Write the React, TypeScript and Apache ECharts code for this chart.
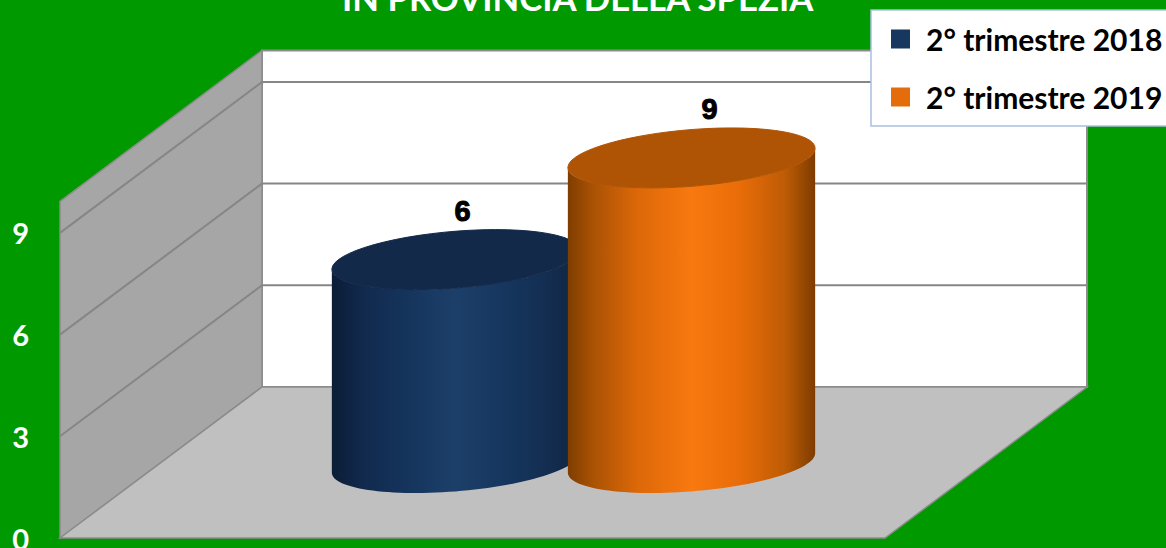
import React, { useEffect, useRef } from "react";
import * as echarts from "echarts";

const titleText = "IN PROVINCIA DELLA SPEZIA";
const categories = ["Provincia della Spezia"];
const seriesNames = ["2° trimestre 2018", "2° trimestre 2019"];
const values2018 = [6];
const values2019 = [9];
const gridValues = [3, 6, 9];

const GREEN = "#009900";
const DEPTH_X = 202;
const DEPTH_Y = 151;
const AXIS_MAX = 9.93;
const RX = 117;
const SKEW = 40;
const RY = 30;

const ell = (cx: number, cy: number, deg: number) => {
  const t = (deg * Math.PI) / 180;
  return [cx + RX * Math.cos(t) + SKEW * Math.sin(t), cy - RY * Math.sin(t)];
};
const arc = (cx: number, cy: number, from: number, to: number) => {
  const n = 60;
  const out: number[][] = [];
  for (let i = 0; i <= n; i++) out.push(ell(cx, cy, from + ((to - from) * i) / n));
  return out;
};
const T0 = (Math.atan2(SKEW, RX) * 180) / Math.PI;

const grad = (stops: [number, string][]) => ({
  type: "linear",
  x: 0,
  y: 0,
  x2: 1,
  y2: 0,
  colorStops: stops.map(([offset, color]) => ({ offset, color })),
});

const wallsRender = (_p: any, api: any) => {
  const [x0, y0] = api.coord([0, 0]);
  const size = api.size([1, 0]);
  const xL = x0 - size[0] / 2;
  const xR = x0 + size[0] / 2;
  const yTop = api.coord([0, AXIS_MAX])[1];
  const lineStyle = { stroke: "#868686", lineWidth: 2, fill: "none" };
  const children: any[] = [
    {
      type: "polygon",
      shape: { points: [[xL + DEPTH_X, yTop - DEPTH_Y], [xR + DEPTH_X, yTop - DEPTH_Y], [xR + DEPTH_X, y0 - DEPTH_Y], [xL + DEPTH_X, y0 - DEPTH_Y]] },
      style: { fill: "#ffffff", stroke: "#8c8c8c", lineWidth: 2 },
    },
    {
      type: "polygon",
      shape: { points: [[xL, yTop], [xL + DEPTH_X, yTop - DEPTH_Y], [xL + DEPTH_X, y0 - DEPTH_Y], [xL, y0]] },
      style: { fill: "#a6a6a6", stroke: "#8c8c8c", lineWidth: 1.5 },
    },
    {
      type: "polygon",
      shape: { points: [[xL, y0], [xR, y0], [xR + DEPTH_X, y0 - DEPTH_Y], [xL + DEPTH_X, y0 - DEPTH_Y]] },
      style: { fill: "#c0c0c0", stroke: "#8c8c8c", lineWidth: 1.5 },
    },
  ];
  gridValues.forEach((v) => {
    const y = api.coord([0, v])[1];
    children.push({
      type: "polyline",
      shape: { points: [[xL, y], [xL + DEPTH_X, y - DEPTH_Y], [xR + DEPTH_X, y - DEPTH_Y]] },
      style: lineStyle,
    });
  });
  return { type: "group", children };
};

const cylinderRender = (
  shiftX: number,
  labelShift: number,
  body: any,
  topFill: string
) => (_p: any, api: any) => {
  const value = api.value(1);
  const base = api.coord([0, 0]);
  const top = api.coord([0, value]);
  const cx = base[0] + DEPTH_X / 2 + shiftX;
  const by = base[1] - 75;
  const ty = top[1] - 75;
  const front = arc(cx, by, T0 + 180, T0 + 360);
  const back = arc(cx, ty, T0 + 360, T0 + 180);
  return {
    type: "group",
    children: [
      { type: "polygon", shape: { points: [...front, ...back] }, style: { fill: body } },
      { type: "polygon", shape: { points: arc(cx, ty, 0, 360) }, style: { fill: topFill, stroke: topFill, lineWidth: 1 } },
      {
        type: "text",
        style: {
          x: cx + labelShift,
          y: ty - 49,
          text: String(value),
          fill: "#000000",
          stroke: "#000000",
          lineWidth: 1,
          fontSize: 29,
          fontWeight: "bold",
          fontFamily: "Liberation Sans",
          align: "center",
          verticalAlign: "middle",
        },
      },
    ],
  };
};

const blueBody = grad([
  [0, "#0b1d36"], [0.12, "#11294d"], [0.3, "#15345c"], [0.5, "#1c3f69"], [0.72, "#15355d"], [0.9, "#132c4e"], [1, "#10243e"],
]);
const orangeBody = grad([
  [0, "#7f3d00"], [0.1, "#a95204"], [0.28, "#dc6808"], [0.5, "#f8790f"], [0.7, "#e86c08"], [0.88, "#bd5b05"], [1, "#7e3c00"],
]);

export default function App() {
  const ref = useRef<HTMLDivElement>(null);
  useEffect(() => {
    document.body.style.margin = "0";
    const chart = echarts.init(ref.current!, undefined, { renderer: "svg" });
    chart.setOption({
      animation: false,
      backgroundColor: GREEN,
      title: {
        text: titleText,
        left: 342,
        top: -20,
        padding: 0,
        textStyle: { color: "#ffffff", fontFamily: "Lato", fontWeight: "bold", fontSize: 34.7 },
      },
      legend: {
        data: seriesNames,
        icon: "rect",
        orient: "vertical",
        left: 871,
        top: 10,
        padding: [14, 40, 14, 20],
        itemWidth: 19,
        itemHeight: 19,
        itemGap: 28,
        backgroundColor: "#ffffff",
        borderColor: "#a9c0de",
        borderWidth: 1.5,
        borderRadius: 0,
        z: 20,
        selectedMode: false,
        textStyle: { color: "#000000", fontFamily: "Lato", fontWeight: "bold", fontSize: 30, padding: [0, 0, 2, 11], lineHeight: 20 },
      },
      grid: { left: 60, right: 281, top: 201.4, bottom: 10, outerBoundsMode: "none" },
      xAxis: { type: "category", data: categories, show: false },
      yAxis: {
        type: "value",
        min: 0,
        max: AXIS_MAX,
        interval: 3,
        axisLine: { show: false },
        axisTick: { show: false },
        splitLine: { show: false },
        axisLabel: {
          showMaxLabel: false,
          margin: 31,
          color: "#ffffff",
          fontFamily: "Lato",
          fontWeight: "bold",
          fontSize: 29,
          padding: [0, 0, 5, 0],
        },
      },
      series: [
        { type: "custom", name: "walls", data: [[0, 0]], clip: false, silent: true, renderItem: wallsRender, z: 1 },
        {
          type: "custom",
          name: seriesNames[0],
          data: [[0, values2018[0]]],
          clip: false,
          silent: true,
          itemStyle: { color: "#17375e" },
          renderItem: cylinderRender(-118, 7, blueBody, "#12294a"),
          z: 2,
        },
        {
          type: "custom",
          name: seriesNames[1],
          data: [[0, values2019[0]]],
          clip: false,
          silent: true,
          itemStyle: { color: "#e46c0a" },
          renderItem: cylinderRender(118, 18, orangeBody, "#af5405"),
          z: 3,
        },
      ],
    });
    return () => chart.dispose();
  }, []);
  return (
    <div
      ref={ref}
      style={{ position: "absolute", left: 0, top: 0, width: 1166, height: 548, overflow: "hidden" }}
    />
  );
}
